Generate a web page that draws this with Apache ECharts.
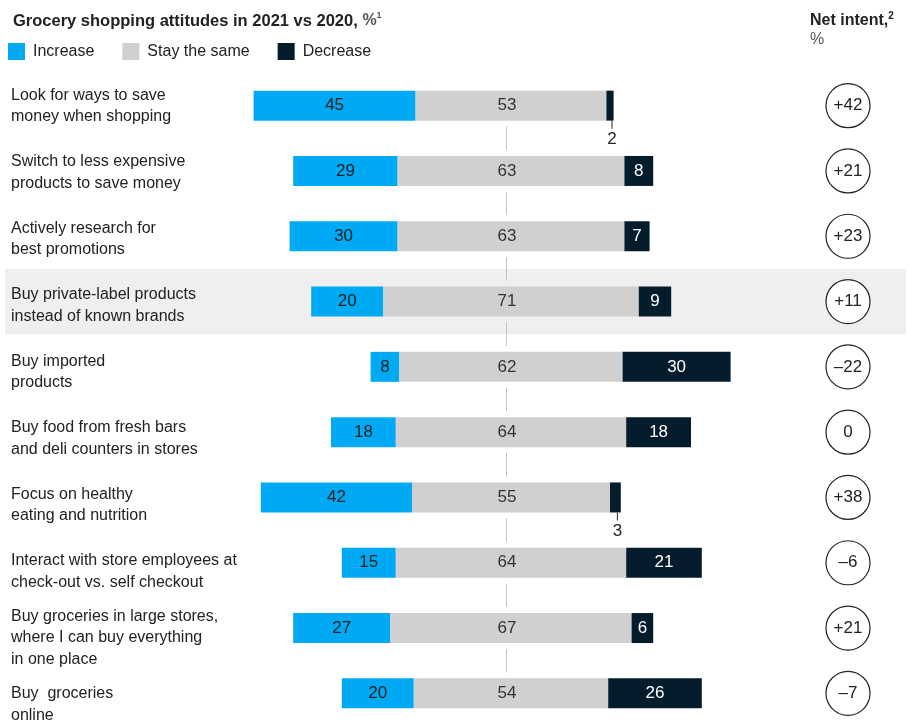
<!DOCTYPE html>
<html>
<head>
<meta charset="utf-8">
<script src="https://cdn.jsdelivr.net/npm/echarts@6/dist/echarts.min.js"></script>
<style>
  html, body { margin: 0; padding: 0; background: #fff; overflow: hidden; }
  #main { width: 907px; height: 760px; }
</style>
</head>
<body>
<div id="main"></div>
<script>
var categories = [
  'Look for ways to save\nmoney when shopping',
  'Switch to less expensive\nproducts to save money',
  'Actively research for\nbest promotions',
  'Buy private-label products\ninstead of known brands',
  'Buy imported\nproducts',
  'Buy food from fresh bars\nand deli counters in stores',
  'Focus on healthy\neating and nutrition',
  'Interact with store employees at\ncheck-out vs. self checkout',
  'Buy groceries in large stores,\nwhere I can buy everything\nin one place',
  'Buy  groceries\nonline'
];
var increase = [45, 29, 30, 20, 8, 18, 42, 15, 27, 20];
var stay = [53, 63, 63, 71, 62, 64, 55, 64, 67, 54];
var decrease = [2, 8, 7, 9, 30, 18, 3, 21, 6, 26];
var netIntent = [42, 21, 23, 11, -22, 0, 38, -6, 21, -7];
var highlighted = [false, false, false, true, false, false, false, false, false, false];

var FONT = "'Liberation Sans', Arial, sans-serif";
var BLUE = '#00a9f4', GREY = '#d0d0d0', NAVY = '#051c2c', INK = '#222';

// 3.6px per percentage point, midpoint of "stay the same" at x=511
var CENTER = 511 / 3.6;
var SPAN = 907 / 3.6;

var baseOffset = increase.map(function (v, i) { return CENTER - v - stay[i] / 2; });

var chart = echarts.init(document.getElementById('main'));

// the canvas is taller than the window so the last row is not squeezed
var barTop = 73, barHeight = 653;

var option = {
  animation: false,
  textStyle: { fontFamily: FONT },
  title: [{
    left: 8, top: 6,
    text: '{b|Grocery shopping attitudes in 2021 vs 2020, }{n|%}{s|1}',
    textStyle: {
      rich: {
        b: { fontFamily: FONT, fontSize: 16.5, fontWeight: 'bold', color: INK, lineHeight: 20 },
        n: { fontFamily: FONT, fontSize: 16, color: '#555', lineHeight: 20 },
        s: { fontFamily: FONT, fontSize: 9, color: '#555', verticalAlign: 'top', lineHeight: 20, padding: [0, 0, 7, 0] }
      }
    }
  }, {
    left: 805, top: 6,
    text: '{b|Net intent,}{s|2}',
    textStyle: {
      rich: {
        b: { fontFamily: FONT, fontSize: 16, fontWeight: 'bold', color: INK, lineHeight: 20 },
        s: { fontFamily: FONT, fontSize: 10, fontWeight: 'bold', color: INK, verticalAlign: 'top', lineHeight: 20, padding: [0, 0, 7, 0] }
      }
    },
    subtext: '%',
    itemGap: 3,
    subtextStyle: { fontFamily: FONT, fontSize: 16, color: '#555' }
  }],
  legend: {
    left: 8, top: 43, padding: 0,
    data: ['Increase', 'Stay the same', 'Decrease'],
    icon: 'rect', itemWidth: 17, itemHeight: 17, itemGap: 28,
    selectedMode: false,
    textStyle: { fontFamily: FONT, fontSize: 16, color: INK, padding: [0, 0, 0, 3] }
  },
  grid: [
    { left: 0, right: 0, top: barTop, height: barHeight },
    { left: 5, right: 1, top: barTop, height: barHeight },
    { left: 0, right: 0, top: 72.75, height: 665 },
    { left: 826, width: 44, top: barTop, height: barHeight }
  ],
  xAxis: [
    { gridIndex: 0, type: 'value', min: 0, max: SPAN, show: false },
    { gridIndex: 1, type: 'value', min: 0, max: 1, show: false },
    { gridIndex: 2, type: 'value', min: 0, max: 1, show: false },
    { gridIndex: 3, type: 'value', min: -1, max: 1, show: false }
  ],
  yAxis: [
    { gridIndex: 0, type: 'category', inverse: true, data: categories, show: false },
    { gridIndex: 1, type: 'category', inverse: true, data: categories, show: false },
    {
      gridIndex: 2, type: 'category', inverse: true, data: categories,
      axisLine: { show: false }, axisTick: { show: false }, splitLine: { show: false },
      axisLabel: {
        inside: true, margin: 11, align: 'left',
        fontFamily: FONT, fontSize: 16, lineHeight: 21.5, color: INK
      },
      z: 5
    },
    { gridIndex: 3, type: 'category', inverse: true, data: categories, show: false }
  ],
  series: [
    {
      name: 'highlight', type: 'bar', xAxisIndex: 1, yAxisIndex: 1,
      barWidth: '100%', silent: true, z: 0,
      itemStyle: { color: '#efefef' },
      data: highlighted.map(function (h) { return h ? 1 : null; })
    },
    {
      name: 'centre', type: 'custom', xAxisIndex: 0, yAxisIndex: 0, z: 1, silent: true,
      data: categories.slice(0, -1).map(function (c, i) { return [CENTER, i]; }),
      encode: { x: 0, y: 1 },
      renderItem: function (params, api) {
        var p = api.coord([api.value(0), api.value(1)]);
        var band = api.size([0, 1])[1];
        var x = Math.round(p[0]) - 4.5;
        return {
          type: 'line',
          shape: { x1: x, y1: p[1] + 15 + 6, x2: x, y2: p[1] + band - 15 - 6 },
          style: { stroke: '#c4c4c4', lineWidth: 1 }
        };
      }
    },
    {
      name: 'base', type: 'bar', stack: 'all', xAxisIndex: 0, yAxisIndex: 0,
      barWidth: 30, silent: true, z: 2,
      itemStyle: { color: 'transparent' },
      data: baseOffset
    },
    {
      name: 'Increase', type: 'bar', stack: 'all', xAxisIndex: 0, yAxisIndex: 0,
      barWidth: 30, z: 2,
      itemStyle: { color: BLUE },
      label: { show: true, position: 'inside', fontFamily: FONT, fontSize: 17, color: INK },
      data: increase
    },
    {
      name: 'Stay the same', type: 'bar', stack: 'all', xAxisIndex: 0, yAxisIndex: 0,
      barWidth: 30, z: 2,
      itemStyle: { color: GREY },
      label: { show: true, position: 'inside', offset: [-4, 0], fontFamily: FONT, fontSize: 17, color: '#333' },
      data: stay
    },
    {
      name: 'Decrease', type: 'bar', stack: 'all', xAxisIndex: 0, yAxisIndex: 0,
      barWidth: 30, z: 2,
      itemStyle: { color: NAVY },
      label: { show: true, position: 'inside', fontFamily: FONT, fontSize: 17, color: '#fff' },
      data: decrease.map(function (v) {
        if (v >= 5) return v;
        return {
          value: v,
          label: {
            position: 'bottom', distance: 0, color: INK, offset: [2, 0],
            formatter: '{t| }\n{v|' + v + '}',
            rich: {
              t: { width: 1, height: 8, backgroundColor: INK, fontSize: 1, lineHeight: 8 },
              v: { fontFamily: FONT, fontSize: 17, color: INK, lineHeight: 22 }
            }
          }
        };
      })
    },
    {
      name: 'net', type: 'scatter', xAxisIndex: 3, yAxisIndex: 3, z: 3,
      symbol: 'circle', symbolSize: 44,
      itemStyle: { color: '#fff', borderColor: INK, borderWidth: 1.2, opacity: 1 },
      label: {
        show: true, position: 'inside', fontFamily: FONT, fontSize: 17, color: INK,
        formatter: function (p) {
          var v = netIntent[p.dataIndex];
          if (v > 0) return '+' + v;
          if (v < 0) return '\u2013' + Math.abs(v);
          return '0';
        }
      },
      data: netIntent.map(function (v, i) { return [0, i]; })
    }
  ]
};

chart.setOption(option);
</script>
</body>
</html>
